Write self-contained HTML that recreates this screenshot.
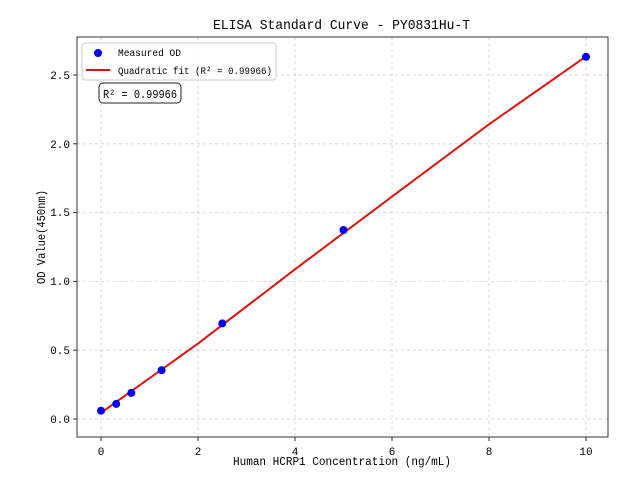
<!DOCTYPE html>
<html><head><meta charset="utf-8"><style>
body{margin:0;background:#fff;}
svg text{font-family:"Liberation Mono",monospace;fill:#000;}
</style></head><body>
<svg width="640" height="480" viewBox="0 0 640 480" xmlns="http://www.w3.org/2000/svg">
<rect width="640" height="480" fill="#fff"/>
<g stroke="#d0d0d0" stroke-width="0.8" stroke-dasharray="3,3">
<line x1="101" y1="37" x2="101" y2="437"/><line x1="198" y1="37" x2="198" y2="437"/>
<line x1="295" y1="37" x2="295" y2="437"/><line x1="392" y1="37" x2="392" y2="437"/>
<line x1="489" y1="37" x2="489" y2="437"/><line x1="586" y1="37" x2="586" y2="437"/>
<line x1="77" y1="419" x2="608" y2="419"/><line x1="77" y1="350.2" x2="608" y2="350.2"/>
<line x1="77" y1="281.4" x2="608" y2="281.4"/><line x1="77" y1="212.6" x2="608" y2="212.6"/>
<line x1="77" y1="143.8" x2="608" y2="143.8"/><line x1="77" y1="75" x2="608" y2="75"/>
</g>
<polyline fill="none" stroke="#dd1111" stroke-width="2" points="101,412.8 198,343.6 295,269.3 392,196.6 489,124.3 586,56.4"/>
<g fill="#0000ee">
<circle cx="101" cy="410.7" r="4"/><circle cx="116.2" cy="403.9" r="4"/><circle cx="131.3" cy="392.9" r="4"/>
<circle cx="161.6" cy="370.2" r="4"/><circle cx="222.3" cy="323.4" r="4"/><circle cx="343.5" cy="230" r="4"/><circle cx="586" cy="56.8" r="4"/>
</g>
<rect x="77" y="37" width="531" height="400" fill="none" stroke="#333" stroke-width="1"/>
<g stroke="#333" stroke-width="1">
<line x1="101" y1="437" x2="101" y2="441"/><line x1="198" y1="437" x2="198" y2="441"/><line x1="295" y1="437" x2="295" y2="441"/>
<line x1="392" y1="437" x2="392" y2="441"/><line x1="489" y1="437" x2="489" y2="441"/><line x1="586" y1="437" x2="586" y2="441"/>
<line x1="73" y1="419" x2="77" y2="419"/><line x1="73" y1="350.2" x2="77" y2="350.2"/><line x1="73" y1="281.4" x2="77" y2="281.4"/>
<line x1="73" y1="212.6" x2="77" y2="212.6"/><line x1="73" y1="143.8" x2="77" y2="143.8"/><line x1="73" y1="75" x2="77" y2="75"/>
</g>
<g font-size="11" text-anchor="middle">
<text x="101" y="455">0</text><text x="198" y="455">2</text><text x="295" y="455">4</text>
<text x="392" y="455">6</text><text x="489" y="455">8</text><text x="586" y="455">10</text>
</g>
<g font-size="11" text-anchor="end">
<text x="70" y="423">0.0</text><text x="70" y="354">0.5</text><text x="70" y="285">1.0</text>
<text x="70" y="216">1.5</text><text x="70" y="148">2.0</text><text x="70" y="79">2.5</text>
</g>
<text x="233" y="465" font-size="12" textLength="218" lengthAdjust="spacingAndGlyphs">Human HCRP1 Concentration (ng/mL)</text>
<text x="0" y="0" font-size="12" textLength="94" lengthAdjust="spacingAndGlyphs" transform="translate(45,284) rotate(-90)">OD Value(450nm)</text>
<text x="213" y="29" font-size="14" textLength="257" lengthAdjust="spacingAndGlyphs">ELISA Standard Curve - PY0831Hu-T</text>
<rect x="82" y="43" width="194" height="37" rx="3" fill="#fff" fill-opacity="0.85" stroke="#ccc"/>
<circle cx="98" cy="53" r="4" fill="#0000ee"/>
<text x="118" y="56" font-size="10" textLength="63" lengthAdjust="spacingAndGlyphs">Measured OD</text>
<line x1="86" y1="70" x2="110" y2="70" stroke="#dd1111" stroke-width="2"/>
<text x="118" y="74" font-size="10" textLength="154" lengthAdjust="spacingAndGlyphs">Quadratic fit (R² = 0.99966)</text>
<rect x="99" y="83" width="82" height="20" rx="4" fill="#fff" stroke="#222"/>
<text x="103" y="98" font-size="12" textLength="74" lengthAdjust="spacingAndGlyphs">R² = 0.99966</text>
</svg>
</body></html>
